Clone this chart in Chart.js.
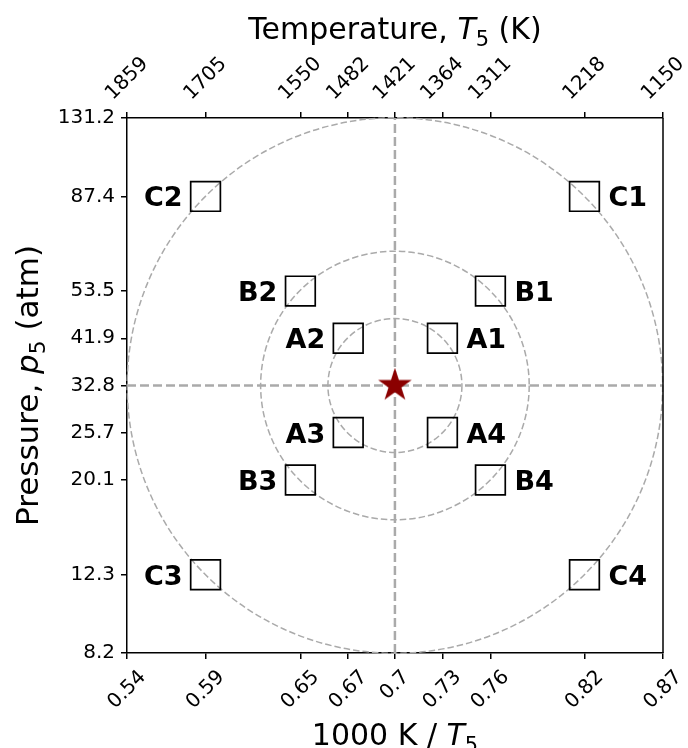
<!DOCTYPE html>
<html>
<head>
<meta charset="utf-8">
<script src="https://cdn.jsdelivr.net/npm/chart.js@4.4.1/dist/chart.umd.min.js"></script>
<style>
  html, body { margin: 0; padding: 0; background: #fff; }
  #wrap { width: 688px; height: 748px; }
</style>
</head>
<body>
<div id="wrap"><canvas id="chart"></canvas></div>
<script>
// tick positions / labels (bottom: 1000 K / T5, top: T5 in K, left: p5 in atm)
const invTempTicks = [0.5379, 0.5865, 0.6452, 0.6748, 0.7037, 0.7331, 0.7628, 0.8210, 0.8696];
const invTempLabels = ['0.54', '0.59', '0.65', '0.67', '0.7', '0.73', '0.76', '0.82', '0.87'];
const tempLabels = ['1859', '1705', '1550', '1482', '1421', '1364', '1311', '1218', '1150'];
const pressureTicks = [8.2, 12.3, 20.1, 25.7, 32.8, 41.9, 53.5, 87.4, 131.2];
const pressureLabels = ['8.2', '12.3', '20.1', '25.7', '32.8', '41.9', '53.5', '87.4', '131.2'];

// base condition (the star)
const baseX = [0.7037];
const baseP = [32.8];

// test conditions (the squares)
const caseNames = ['A1', 'A2', 'A3', 'A4', 'B1', 'B2', 'B3', 'B4', 'C1', 'C2', 'C3', 'C4'];
const caseX = [0.7331, 0.6748, 0.6748, 0.7331, 0.7628, 0.6452, 0.6452, 0.7628, 0.8210, 0.5865, 0.5865, 0.8210];
const caseP = [41.9, 41.9, 25.7, 25.7, 53.5, 53.5, 20.1, 20.1, 87.4, 87.4, 12.3, 12.3];

const FONT = "'DejaVu Sans', sans-serif";
const GREY = '#aaaaaa';

function makeStar(size, color) {
    const c = document.createElement('canvas');
    c.width = size;
    c.height = size;
    const g = c.getContext('2d');
    const cx = size / 2, cy = size / 2;
    const R = size / 2 - 0.3, r = R * 0.382;
    g.beginPath();
    for (let i = 0; i < 10; i++) {
        const a = -Math.PI / 2 + i * Math.PI / 5;
        const rad = i % 2 ? r : R;
        g.lineTo(cx + rad * Math.cos(a), cy + rad * Math.sin(a));
    }
    g.closePath();
    g.fillStyle = color;
    g.fill();
    return c;
}

// text with italic symbol + subscript, e.g. T_5
function drawMixed(ctx, parts, x, y, size) {
    const fontFor = p => (p.italic ? 'italic ' : '') + (p.sub ? size * 0.7 : size) + 'px ' + FONT;
    let total = 0;
    parts.forEach(p => { ctx.font = fontFor(p); p.w = ctx.measureText(p.t).width; total += p.w; });
    let cx = x - total / 2;
    ctx.textAlign = 'left';
    ctx.textBaseline = 'alphabetic';
    parts.forEach(p => {
        ctx.font = fontFor(p);
        ctx.fillText(p.t, cx, y + (p.sub ? size * 0.22 : 0));
        cx += p.w;
    });
}

const ringsPlugin = {
    id: 'rings',
    beforeDatasetsDraw(chart) {
        const { ctx, scales: { x, y } } = chart;
        const cx = x.getPixelForValue(baseX[0]);
        const cy = y.getPixelForValue(baseP[0]);
        ctx.save();
        ctx.strokeStyle = GREY;
        ctx.lineWidth = 1.5;
        ctx.setLineDash([6.5, 3]);
        ['A', 'B', 'C'].forEach(g => {
            const i = caseNames.findIndex(n => n[0] === g);
            const r = Math.hypot(x.getPixelForValue(caseX[i]) - cx, y.getPixelForValue(caseP[i]) - cy);
            ctx.beginPath();
            ctx.arc(cx, cy, r, 0, Math.PI * 2);
            ctx.stroke();
        });
        ctx.restore();
    }
};

const textPlugin = {
    id: 'texts',
    afterDraw(chart) {
        const { ctx, chartArea: area, scales: { x, y } } = chart;
        ctx.save();
        ctx.fillStyle = '#000';

        // frame right side
        ctx.strokeStyle = '#000';
        ctx.lineWidth = 1.5;
        ctx.beginPath();
        ctx.moveTo(area.right, area.top);
        ctx.lineTo(area.right, area.bottom);
        ctx.stroke();

        // rotated tick labels, centred on their ticks
        ctx.font = '20px ' + FONT;
        ctx.textAlign = 'center';
        ctx.textBaseline = 'middle';
        const s = Math.SQRT1_2 / 2;
        invTempTicks.forEach((v, i) => {
            const px = x.getPixelForValue(v);
            let w = ctx.measureText(invTempLabels[i]).width;
            let cy = area.bottom + 13 + (w + 23) * s;
            ctx.save();
            ctx.translate(px, cy);
            ctx.rotate(-Math.PI / 4);
            ctx.fillText(invTempLabels[i], 0, 0);
            ctx.restore();

            w = ctx.measureText(tempLabels[i]).width;
            cy = area.top - 13 - (w + 23) * s;
            ctx.save();
            ctx.translate(px, cy);
            ctx.rotate(-Math.PI / 4);
            ctx.fillText(tempLabels[i], 0, 0);
            ctx.restore();
        });

        // case names
        ctx.font = 'bold 27px ' + FONT;
        ctx.textBaseline = 'alphabetic';
        caseNames.forEach((n, i) => {
            const px = x.getPixelForValue(caseX[i]);
            const py = y.getPixelForValue(caseP[i]);
            const right = caseX[i] > baseX[0];
            ctx.textAlign = right ? 'left' : 'right';
            ctx.fillText(n, right ? px + 24 : px - 23, py + 10);
        });

        // axis titles
        const midX = (area.left + area.right) / 2;
        const midY = (area.top + area.bottom) / 2;
        drawMixed(ctx, [{ t: 'Temperature, ' }, { t: 'T', italic: true }, { t: '5', sub: true }, { t: ' (K)' }], midX, 39, 30);
        drawMixed(ctx, [{ t: '1000 K / ' }, { t: 'T', italic: true }, { t: '5', sub: true }], midX, 745, 30);
        ctx.save();
        ctx.translate(38, midY);
        ctx.rotate(-Math.PI / 2);
        drawMixed(ctx, [{ t: 'Pressure, ' }, { t: 'p', italic: true }, { t: '5', sub: true }, { t: ' (atm)' }], 0, 0, 31);
        ctx.restore();

        ctx.restore();
    }
};

const axisLine = { display: true, color: '#000', width: 1.5 };
const tickMarks = { drawOnChartArea: false, drawTicks: true, tickLength: 6, color: '#000', lineWidth: 1.5 };

const xMin = invTempTicks[0];
const xMax = invTempTicks[invTempTicks.length - 1];
const yMin = pressureTicks[0];
const yMax = pressureTicks[pressureTicks.length - 1];

new Chart(document.getElementById('chart'), {
    type: 'scatter',
    data: {
        datasets: [
            {
                label: 'base',
                data: baseX.map((v, i) => ({ x: v, y: baseP[i] })),
                pointStyle: makeStar(36, '#8b0000'),
                pointRadius: 18,
                order: 0
            },
            {
                label: 'cases',
                data: caseX.map((v, i) => ({ x: v, y: caseP[i] })),
                pointStyle: 'rect',
                pointRadius: 21,
                borderColor: '#000',
                borderWidth: 1.7,
                backgroundColor: 'rgba(0,0,0,0)',
                order: 1
            },
            {
                type: 'line',
                label: 'vline',
                data: [{ x: baseX[0], y: yMin }, { x: baseX[0], y: yMax }],
                borderColor: GREY,
                borderWidth: 2.5,
                borderDash: [9, 4],
                pointRadius: 0,
                order: 2
            },
            {
                type: 'line',
                label: 'hline',
                data: [{ x: xMin, y: baseP[0] }, { x: xMax, y: baseP[0] }],
                borderColor: GREY,
                borderWidth: 2.5,
                borderDash: [9, 4],
                pointRadius: 0,
                order: 2
            }
        ]
    },
    options: {
        responsive: true,
        maintainAspectRatio: false,
        animation: false,
        layout: { padding: { left: 0, right: 25, top: 0, bottom: 0 } },
        plugins: { legend: { display: false }, tooltip: { enabled: false } },
        scales: {
            x: {
                type: 'linear',
                position: 'bottom',
                min: xMin,
                max: xMax,
                afterBuildTicks: s => { s.ticks = invTempTicks.map(v => ({ value: v })); },
                afterFit: s => { s.height = 95; },
                ticks: { display: false },
                grid: tickMarks,
                border: axisLine
            },
            x2: {
                type: 'linear',
                position: 'top',
                min: xMin,
                max: xMax,
                afterBuildTicks: s => { s.ticks = invTempTicks.map(v => ({ value: v })); },
                afterFit: s => { s.height = 118; },
                ticks: { display: false },
                grid: tickMarks,
                border: axisLine
            },
            y: {
                type: 'logarithmic',
                position: 'left',
                min: yMin,
                max: yMax,
                afterBuildTicks: s => { s.ticks = pressureTicks.map(v => ({ value: v })); },
                afterFit: s => { s.width = 127; },
                ticks: {
                    autoSkip: false,
                    color: '#000',
                    padding: 6,
                    font: { family: FONT, size: 20 },
                    callback: (v, i) => pressureLabels[i]
                },
                grid: tickMarks,
                border: axisLine
            }
        }
    },
    plugins: [ringsPlugin, textPlugin]
});
</script>
</body>
</html>
